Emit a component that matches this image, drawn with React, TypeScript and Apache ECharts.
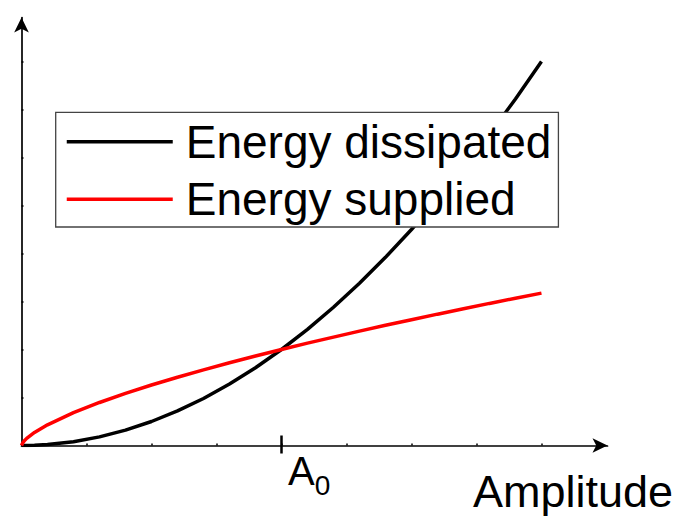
import React, { useEffect, useRef } from "react";
import * as echarts from "echarts";

// Amplitude values (A0 = 1)
const amplitude = [0, 0.005, 0.01, 0.02, 0.05, 0.1, 0.2, 0.3, 0.4, 0.5, 0.6, 0.7, 0.8, 0.9, 1.0, 1.1, 1.2, 1.3, 1.4, 1.5, 1.6, 1.7, 1.8, 1.9, 2.0];
const energyDissipated = [0, 0.00003, 0.0001, 0.0004, 0.0025, 0.01, 0.04, 0.09, 0.16, 0.25, 0.36, 0.49, 0.64, 0.81, 1.0, 1.21, 1.44, 1.69, 1.96, 2.25, 2.56, 2.89, 3.24, 3.61, 4.0];
const energySupplied = [0, 0.029, 0.046, 0.074, 0.136, 0.215, 0.342, 0.448, 0.543, 0.63, 0.711, 0.788, 0.862, 0.932, 1.0, 1.066, 1.129, 1.191, 1.252, 1.31, 1.368, 1.424, 1.48, 1.534, 1.587];

const seriesNames = ["Energy dissipated", "Energy supplied"];
const xTickValues = [0.25, 0.5, 0.75, 1, 1.25, 1.5, 1.75, 2];
const yTickValues = [0.5, 1, 1.5, 2, 2.5, 3, 3.5, 4];
const a0Value = [1];
const xAxisTitle = "Amplitude";

const FONT = "'Liberation Sans', Arial, sans-serif";

export default function App() {
  const ref = useRef<HTMLDivElement>(null);
  useEffect(() => {
    if (!ref.current) return;
    const chart = echarts.init(ref.current, null, { renderer: "svg" });
    const pairs = (ys: number[]) => amplitude.map((x, i) => [x, ys[i]]);
    const xMin = 0;
    const xMax = 2.254;
    const axisLineStyle = { color: "#000", width: 1.7 };
    chart.setOption({
      animation: false,
      backgroundColor: "#fff",
      grid: {
        left: 21.5,
        right: 70.5,
        top: 17.5,
        bottom: 76.5,
        containLabel: false,
        outerBoundsMode: "none",
      },
      legend: {
        orient: "vertical",
        left: 55.7,
        top: 112.3,
        padding: [1.7, 7, 0, 9.3],
        itemGap: 2,
        itemWidth: 106,
        itemHeight: 55.5,
        backgroundColor: "#fff",
        borderColor: "#444",
        borderWidth: 1.3,
        borderRadius: 0,
        itemStyle: { opacity: 0, borderWidth: 0 },
        lineStyle: { width: 3.5 },
        textStyle: {
          fontFamily: FONT,
          fontSize: 46,
          color: "#000",
          lineHeight: 55.5,
          padding: [0, 0, 0, 8],
        },
        data: seriesNames,
      },
      xAxis: [
        {
          type: "value",
          min: xMin,
          max: xMax,
          position: "bottom",
          splitLine: { show: false },
          axisLine: {
            show: true,
            onZero: false,
            lineStyle: axisLineStyle,
            symbol: ["none", "arrow"],
            symbolSize: [11, 15],
          },
          axisTick: {
            show: true,
            inside: true,
            length: 2,
            customValues: xTickValues,
            lineStyle: { color: "#000", width: 1.5 },
          },
          axisLabel: {
            show: true,
            customValues: a0Value,
            formatter: () => "{a|A}{b|0}",
            align: "left",
            margin: 5,
            rich: {
              a: {
                fontFamily: FONT,
                fontSize: 40,
                lineHeight: 40,
                color: "#000",
                verticalAlign: "top",
                padding: [0, 0, 0, 6.5],
              },
              b: {
                fontFamily: FONT,
                fontSize: 28,
                lineHeight: 28,
                color: "#000",
                verticalAlign: "top",
                padding: [21, 0, 0, 0],
              },
            },
          },
        },
        {
          type: "value",
          min: xMin,
          max: xMax,
          position: "bottom",
          offset: -10,
          splitLine: { show: false },
          axisLine: { show: false, onZero: false },
          axisTick: {
            show: true,
            inside: false,
            length: 18,
            customValues: a0Value,
            lineStyle: { color: "#000", width: 2.5 },
          },
          axisLabel: { show: false },
        },
      ],
      yAxis: {
        type: "value",
        min: 0,
        max: 4.458,
        splitLine: { show: false },
        axisLine: {
          show: true,
          onZero: false,
          lineStyle: axisLineStyle,
          symbol: ["none", "arrow"],
          symbolSize: [11, 15],
        },
        axisTick: {
          show: true,
          inside: true,
          length: 2,
          customValues: yTickValues,
          lineStyle: { color: "#000", width: 1.5 },
        },
        axisLabel: { show: false },
      },
      graphic: [
        {
          type: "text",
          x: 673,
          y: 491,
          style: {
            text: xAxisTitle,
            fontFamily: FONT,
            fontSize: 45,
            fill: "#000",
            align: "right",
            verticalAlign: "middle",
          },
        },
      ],
      series: [
        {
          name: seriesNames[0],
          type: "line",
          data: pairs(energyDissipated),
          symbol: "none",
          smooth: false,
          lineStyle: { color: "#000", width: 3.5 },
          itemStyle: { color: "#000" },
          z: 3,
        },
        {
          name: seriesNames[1],
          type: "line",
          data: pairs(energySupplied),
          symbol: "none",
          smooth: false,
          lineStyle: { color: "#ff0000", width: 3.5 },
          itemStyle: { color: "#ff0000" },
          z: 4,
        },
      ],
    });
    return () => chart.dispose();
  }, []);
  return (
    <div
      ref={ref}
      style={{ position: "fixed", left: 0, top: 0, width: 678, height: 522, background: "#fff" }}
    />
  );
}
